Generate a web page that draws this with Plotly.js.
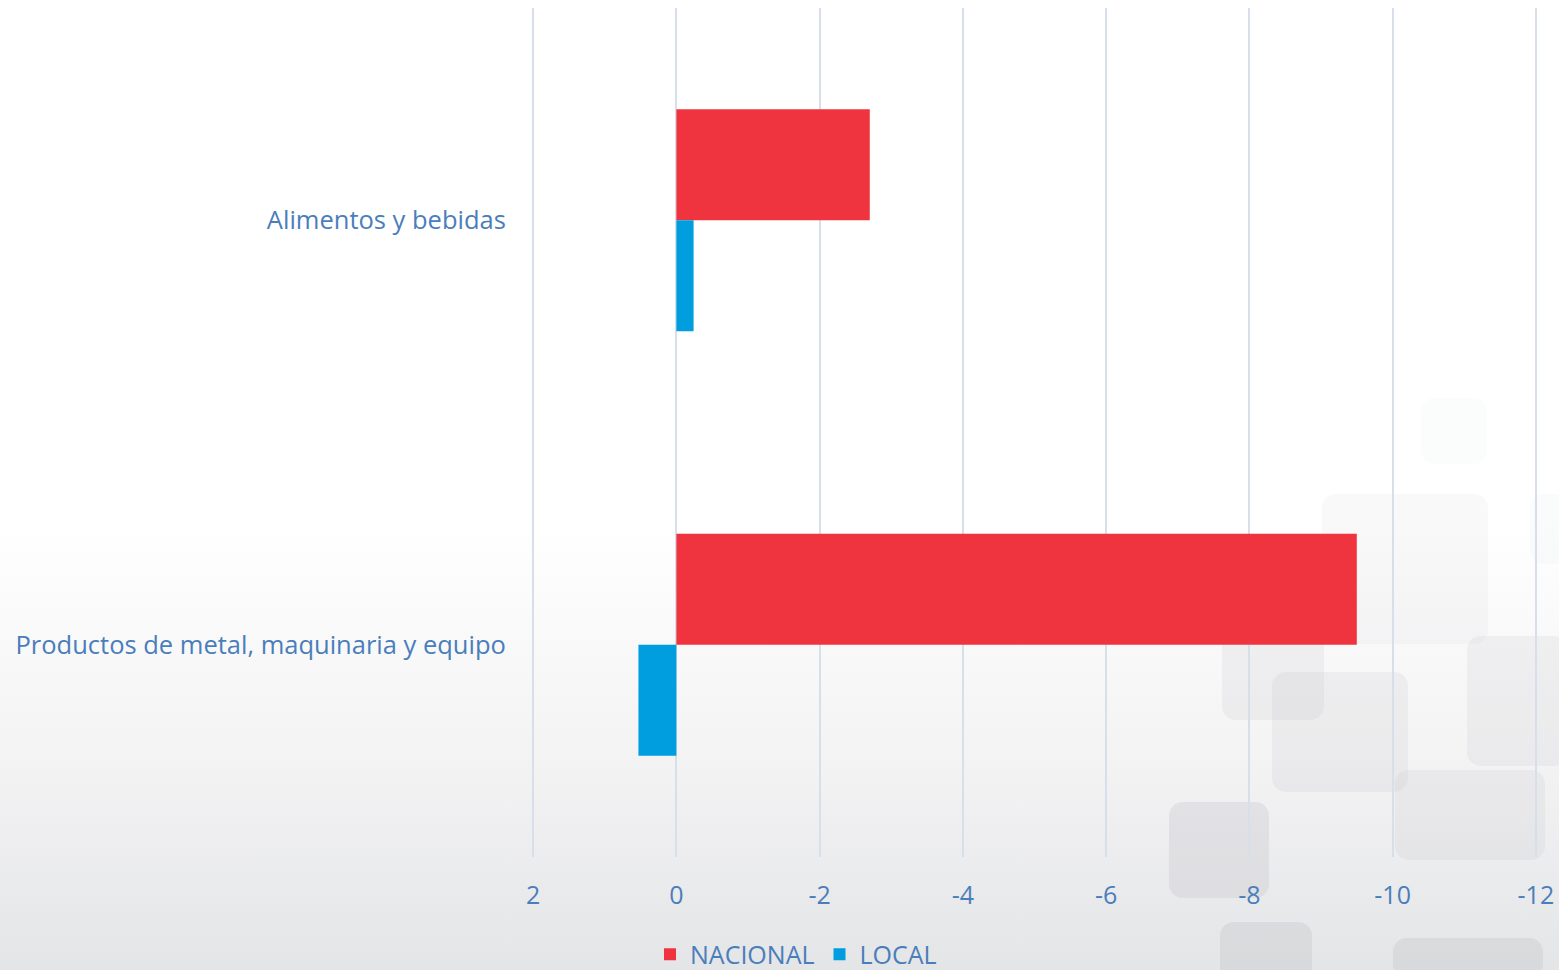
<!DOCTYPE html>
<html>
<head>
<meta charset="utf-8">
<script src="https://cdn.plot.ly/plotly-3.0.1.min.js"></script>
<style>
html,body{margin:0;padding:0;width:1559px;height:970px;overflow:hidden;}
#bg{position:absolute;left:0;top:0;width:1559px;height:970px;
background:linear-gradient(to bottom,#ffffff 0px,#ffffff 520px,#f3f3f4 760px,#e4e5e7 970px);}
.sq{position:absolute;border-radius:14px;}
#chart{position:absolute;left:0;top:0;width:1559px;height:970px;}
</style>
</head>
<body>
<div id="bg">
  <div class="sq" style="left:1421px;top:398px;width:66px;height:66px;background:rgba(220,222,226,0.10)"></div>
  <div class="sq" style="left:1322px;top:494px;width:166px;height:150px;background:rgba(210,212,216,0.13)"></div>
  <div class="sq" style="left:1530px;top:494px;width:40px;height:70px;background:rgba(210,212,216,0.10)"></div>
  <div class="sq" style="left:1222px;top:612px;width:102px;height:108px;background:rgba(200,202,206,0.20)"></div>
  <div class="sq" style="left:1272px;top:672px;width:136px;height:120px;background:rgba(200,202,206,0.20)"></div>
  <div class="sq" style="left:1467px;top:636px;width:100px;height:130px;background:rgba(200,202,206,0.20)"></div>
  <div class="sq" style="left:1169px;top:802px;width:100px;height:96px;background:rgba(190,192,196,0.28)"></div>
  <div class="sq" style="left:1395px;top:770px;width:150px;height:90px;background:rgba(200,202,206,0.20)"></div>
  <div class="sq" style="left:1220px;top:922px;width:92px;height:60px;background:rgba(190,192,196,0.32)"></div>
  <div class="sq" style="left:1393px;top:938px;width:150px;height:40px;background:rgba(190,192,196,0.32)"></div>
</div>
<div id="chart"></div>
<script>
const categories = ["Alimentos y bebidas", "Productos de metal, maquinaria y equipo"];
const nacional = [-2.7, -9.5];
const local = [-0.24, 0.53];
const xTicks = [2, 0, -2, -4, -6, -8, -10, -12];

const txtColor = "#4a7ebb";
const fontFam = "Open Sans, Liberation Sans, sans-serif";

const data = [
  {type:"bar", orientation:"h", name:"NACIONAL", y:categories, x:nacional,
   marker:{color:"#ef343f"}, hoverinfo:"none"},
  {type:"bar", orientation:"h", name:"LOCAL", y:categories, x:local,
   marker:{color:"#009ddf"}, hoverinfo:"none"}
];

const layout = {
  width:1559, height:970,
  paper_bgcolor:"rgba(0,0,0,0)", plot_bgcolor:"rgba(0,0,0,0)",
  margin:{l:531, r:21, t:8, b:113, autoexpand:false},
  barmode:"group", bargap:0.477, bargroupgap:0,
  font:{family:fontFam, color:txtColor, size:25},
  xaxis:{range:[2.03,-12.03], tickvals:xTicks, ticktext:xTicks.map(String),
    showgrid:true, gridcolor:"#d6dfea", gridwidth:2,
    zeroline:true, zerolinecolor:"#d6dfea", zerolinewidth:2,
    showline:false, ticks:"outside", ticklen:16, tickcolor:"rgba(0,0,0,0)",
    tickfont:{size:25, color:txtColor, family:fontFam}, fixedrange:true},
  yaxis:{type:"category", autorange:"reversed", showgrid:false, zeroline:false,
    showline:false, ticks:"outside", ticklen:19, tickcolor:"rgba(0,0,0,0)",
    tickfont:{size:25.5, color:txtColor, family:fontFam}, fixedrange:true},
  legend:{orientation:"h", x:0.5, xref:"paper", xanchor:"center",
    yref:"container", y:0.016, yanchor:"middle",
    traceorder:"normal", font:{size:25, color:txtColor, family:fontFam},
    itemwidth:30, bgcolor:"rgba(0,0,0,0)"},
  showlegend:true
};
layout.legend.x = (796 - 531) / (1559 - 531 - 21);

Plotly.newPlot("chart", data, layout, {staticPlot:true, displayModeBar:false});
</script>
</body>
</html>
